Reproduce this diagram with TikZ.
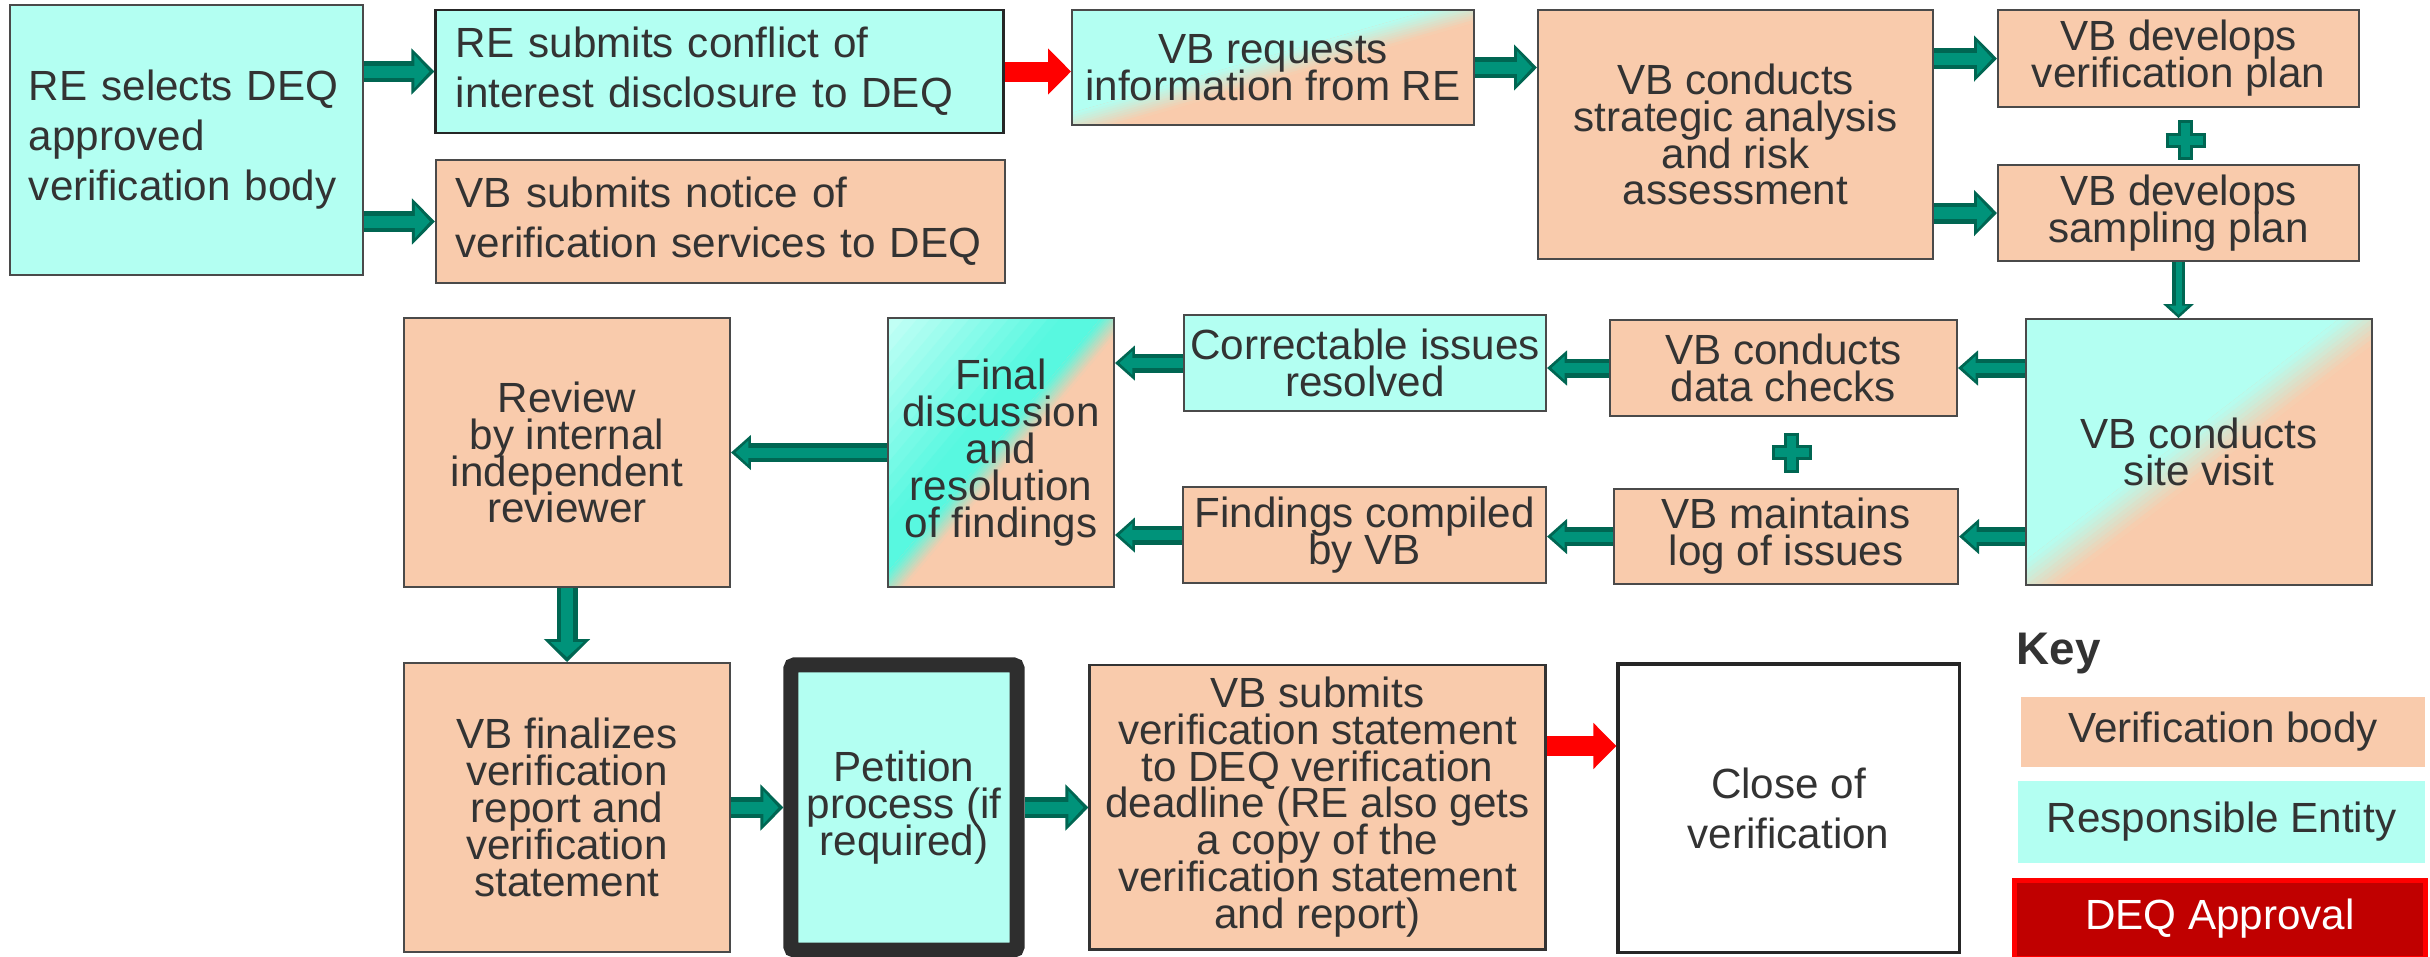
\documentclass[tikz,border=0pt]{standalone}
\usepackage{fontspec}
\setmainfont{Liberation Sans}
\usetikzlibrary{arrows.meta,calc}

\definecolor{recyan}{HTML}{B3FFF2}
\definecolor{palecyan}{HTML}{C4FFF6}
\definecolor{vbpeach}{HTML}{F9CBAC}
\definecolor{turq}{HTML}{58F8E0}
\definecolor{flowteal}{HTML}{00937A}
\definecolor{flowdark}{HTML}{006652}
\definecolor{textgray}{HTML}{333333}
\definecolor{boxline}{HTML}{4A4A4A}
\definecolor{deqred}{HTML}{C00000}
\definecolor{frame}{HTML}{2E2E2E}

\setlength{\lineskiplimit}{-20pt}

%band across the rotated frame, from u=#1 to u=#2
\newcommand\band[2]{(#1,-400) -- (#2,-400) -- (#2,400) -- (#1,400) -- cycle}

%cyan top left, peach bottom right: centre x, centre y, width, height, angle, half band
\newcommand\splitfill[6]{%
	\begin{scope}
		\clip ({#1-#3/2},{#2-#4/2}) rectangle ({#1+#3/2},{#2+#4/2});
		\begin{scope}[shift={(#1,#2)},rotate=#5]
			\fill[vbpeach] \band{-400}{400};
			\fill[recyan] \band{-400}{-#6};
			\foreach \k in {0,...,9}{
				\pgfmathtruncatemacro\pct{10*\k+5}
				\fill[vbpeach!\pct!recyan] \band{{-#6+#6*\k/5}}{{-#6+#6*(\k+1.2)/5}};}
		\end{scope}
	\end{scope}}

\begin{document}
\begin{tikzpicture}[x=0.01cm,y=-0.01cm,
	stage/.style={draw=boxline,line width=0.5pt,text=textgray,align=center,inner sep=0pt,
		font=\fontsize{12}{10.5}\selectfont},
	wide/.style={font=\fontsize{12}{14.2}\selectfont},
	vbbox/.style={stage,fill=vbpeach},
	rebox/.style={stage,fill=recyan},
	keybox/.style={text=textgray,inner sep=0pt,font=\fontsize{12}{14}\selectfont},
	flow/.style={draw=flowdark,line width=0.21cm,-{Triangle[length=0.23cm,width=0.45cm]},
		postaction={draw=flowteal,line width=0.12cm,-{Triangle[length=0.15cm,width=0.32cm]},shorten >=0.05cm}},
	flowsmall/.style={draw=flowdark,line width=0.19cm,-{Triangle[length=0.20cm,width=0.34cm]},
		postaction={draw=flowteal,line width=0.10cm,-{Triangle[length=0.13cm,width=0.23cm]},shorten >=0.045cm}},
	flowthin/.style={draw=flowdark,line width=0.13cm,-{Triangle[length=0.14cm,width=0.30cm]},
		postaction={draw=flowteal,line width=0.06cm,-{Triangle[length=0.09cm,width=0.19cm]},shorten >=0.035cm}},
	redflow/.style={draw=red,line width=0.20cm,-{Triangle[length=0.23cm,width=0.45cm]}},
	plusedge/.style={draw=flowdark,line width=0.15cm},
	plusfill/.style={draw=flowteal,line width=0.09cm}]
	
	\useasboundingbox (0,0) rectangle (2430,956);
	
	%GRADIENT FILLS
	\splitfill{1273}{67.5}{402}{115}{-74}{12}
	\splitfill{2199}{452}{346}{266}{-52.4}{20}
	\begin{scope}
		\clip (888,318) rectangle (1114,587);
		\begin{scope}[shift={(1001,452.5)},rotate=-40]
			\fill[vbpeach] \band{-400}{400};
			\fill[palecyan] \band{-400}{-170};
			\foreach \k in {0,...,12}{
				\pgfmathtruncatemacro\pct{100*(\k+0.5)/13}
				\fill[turq!\pct!palecyan] \band{{-170+10*\k}}{{-158+10*\k}};}
			\fill[turq] \band{-41}{-10};
			\foreach \k in {0,...,10}{
				\pgfmathtruncatemacro\pct{100*(\k+0.5)/11}
				\fill[vbpeach!\pct!turq] \band{{-10+2*\k}}{{-7.5+2*\k}};}
		\end{scope}
	\end{scope}
	
	%FIRST ROW
	\node[rebox,wide,align=left,text width=3.15cm,inner xsep=0.19cm,minimum width=3.53cm,minimum height=2.70cm] (select) at (186.5,140) {RE selects DEQ\\approved\\verification body};
	\node[rebox,wide,draw=black!85,line width=0.8pt,align=left,text width=5.27cm,inner xsep=0.2cm,minimum width=5.67cm,minimum height=1.23cm] (conflict) at (719.5,71.5) {RE submits conflict of\\interest disclosure to DEQ};
	\node[vbbox,wide,align=left,text width=5.29cm,inner xsep=0.2cm,minimum width=5.69cm,minimum height=1.23cm] (notice) at (720.5,221.5) {VB submits notice of\\verification services to DEQ};
	\node[stage,minimum width=4.02cm,minimum height=1.15cm] (request) at (1273,67.5) {VB requests\\information from RE};
	\node[vbbox,minimum width=3.95cm,minimum height=2.49cm] (analysis) at (1735.5,134.5) {VB conducts\\strategic analysis\\and risk\\assessment};
	\node[vbbox,minimum width=3.61cm,minimum height=0.97cm] (verplan) at (2178.5,58.5) {VB develops\\verification plan};
	\node[vbbox,minimum width=3.61cm,minimum height=0.96cm] (samplan) at (2178.5,213) {VB develops\\sampling plan};
	
	%SECOND ROW
	\node[stage,minimum width=3.46cm,minimum height=2.66cm] (visit) at (2199,452) {VB conducts\\site visit};
	\node[vbbox,minimum width=3.47cm,minimum height=0.96cm] (checks) at (1783.5,368) {VB conducts\\data checks};
	\node[vbbox,minimum width=3.44cm,minimum height=0.95cm] (logissues) at (1786,536.5) {VB maintains\\log of issues};
	\node[rebox,minimum width=3.62cm,minimum height=0.96cm] (correct) at (1365,363) {Correctable issues\\resolved};
	\node[vbbox,minimum width=3.63cm,minimum height=0.96cm] (compiled) at (1364.5,535) {Findings compiled\\by VB};
	\node[stage,minimum width=2.26cm,minimum height=2.69cm] (final) at (1001,452.5) {Final\\discussion\\and\\resolution\\of findings};
	\node[vbbox,minimum width=3.26cm,minimum height=2.69cm] (review) at (567,452.5) {Review\\by internal\\independent\\reviewer};
	
	%THIRD ROW
	\node[vbbox,minimum width=3.26cm,minimum height=2.89cm] (finalize) at (567,807.5) {VB finalizes\\verification\\report and\\verification\\statement};
	\node[rebox,draw=frame,line width=0.15cm,rounded corners=1pt,minimum width=2.26cm,minimum height=2.85cm] (petition) at (904,807.5) {Petition\\process (if\\required)};
	\node[vbbox,draw=black!80,line width=0.8pt,minimum width=4.55cm,minimum height=2.84cm] (submit) at (1317.5,807) {VB submits\\verification statement\\to DEQ verification\\deadline (RE also gets\\a copy of the\\verification statement\\and report)};
	\node[stage,wide,fill=white,draw=black!85,line width=0.9pt,minimum width=3.41cm,minimum height=2.88cm] (close) at (1788.5,808) {Close of\\verification};
	
	%KEY
	\node[text=textgray,inner sep=0pt,anchor=west,font=\fontsize{13}{15}\selectfont\bfseries] (keytitle) at (2016,653) {Key};
	\node[keybox,fill=vbpeach,minimum width=4.04cm,minimum height=0.70cm] (keyvb) at (2223,732) {Verification body};
	\node[keybox,fill=recyan,minimum width=4.07cm,minimum height=0.82cm] (keyre) at (2221.5,822) {Responsible Entity};
	\node[keybox,fill=deqred,draw=red,line width=0.05cm,text=white,minimum width=4.11cm,minimum height=0.78cm] (keydeq) at (2220,919) {DEQ Approval};
	
	%ARROWS
	\draw[flow] (select.east |- conflict) -- (conflict.west);
	\draw[flow] (select.east |- notice) -- (notice.west);
	\draw[redflow] (conflict.east) -- (conflict.east -| request.west);
	\draw[flow] (request.east) -- (request.east -| analysis.west);
	\draw[flow] (analysis.east |- verplan) -- (verplan.west);
	\draw[flow] (analysis.east |- samplan) -- (samplan.west);
	\draw[flowthin] (samplan.south) -- (samplan.south |- visit.north);
	%
	\draw[flowsmall] (visit.west |- checks) -- (checks.east);
	\draw[flowsmall] (visit.west |- logissues) -- (logissues.east);
	\draw[flowsmall] (checks.west) -- (checks.west -| correct.east);
	\draw[flowsmall] (logissues.west) -- (logissues.west -| compiled.east);
	\draw[flowsmall] (correct.west) -- (correct.west -| final.east);
	\draw[flowsmall] (compiled.west) -- (compiled.west -| final.east);
	\draw[flowsmall] (final.west) -- (final.west -| review.east);
	%
	\draw[flow] (review.south) -- (review.south |- finalize.north);
	\draw[flow] (finalize.east) -- (finalize.east -| petition.west);
	\draw[flow] (petition.east) -- (petition.east -| submit.west);
	\coordinate (toclose) at ([yshift=0.61cm]submit.east);
	\draw[redflow] (toclose) -- (toclose -| close.west);
	
	%PLUS SIGNS
	\coordinate (plusA) at ($(verplan.south)!0.5!(samplan.north)+(7,4)$);
	\coordinate (plusB) at ($(checks.south)!0.5!(logissues.north)+(7,0)$);
	\draw[plusedge] ([yshift=0.2cm]plusA) -- ([yshift=-0.2cm]plusA) ([xshift=-0.2cm]plusA) -- ([xshift=0.2cm]plusA);
	\draw[plusfill] ([yshift=0.17cm]plusA) -- ([yshift=-0.17cm]plusA) ([xshift=-0.17cm]plusA) -- ([xshift=0.17cm]plusA);
	\draw[plusedge] ([yshift=0.2cm]plusB) -- ([yshift=-0.2cm]plusB) ([xshift=-0.2cm]plusB) -- ([xshift=0.2cm]plusB);
	\draw[plusfill] ([yshift=0.17cm]plusB) -- ([yshift=-0.17cm]plusB) ([xshift=-0.17cm]plusB) -- ([xshift=0.17cm]plusB);
	
\end{tikzpicture}
\end{document}
